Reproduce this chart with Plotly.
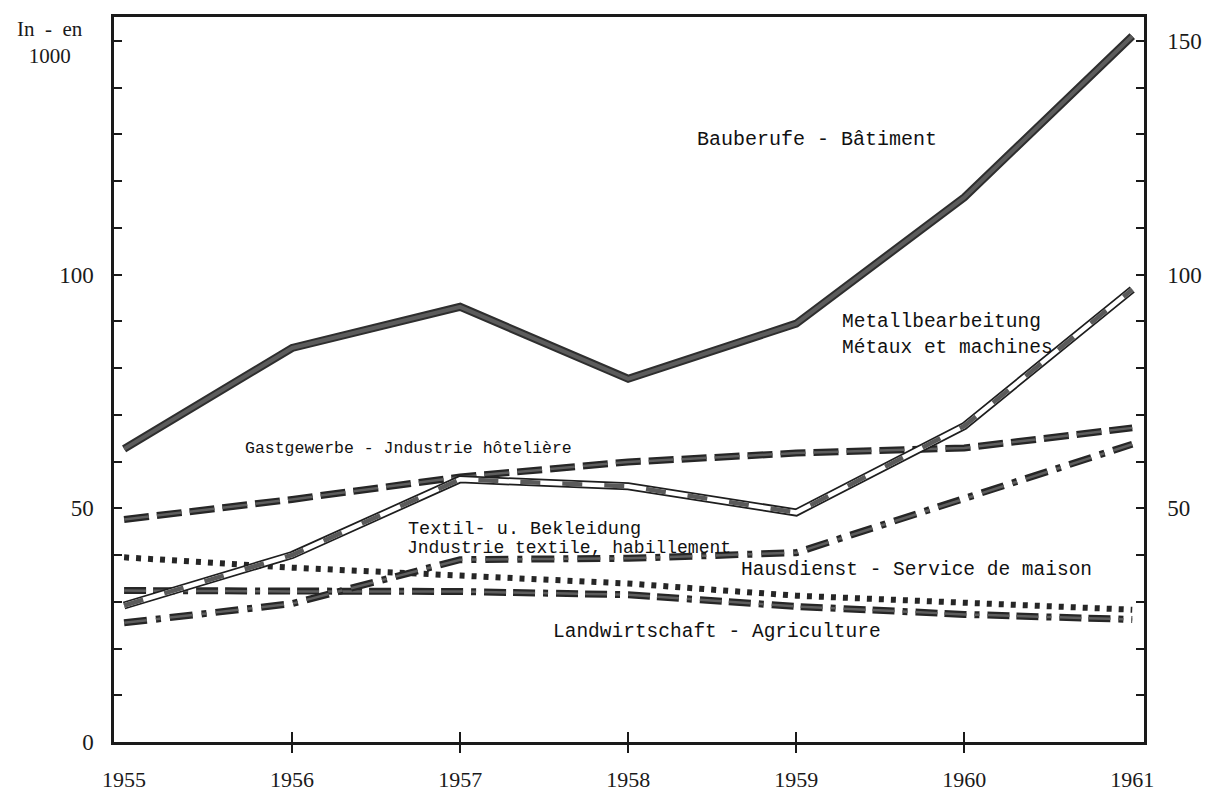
import plotly.graph_objects as go

# ---- data (values in thousands) ----
years = [1955, 1956, 1957, 1958, 1959, 1960, 1961]
bauberufe = [62.7, 84.3, 93.1, 77.7, 89.5, 116.5, 151.0]
metallbearbeitung = [29.2, 40.0, 56.2, 54.7, 49.1, 67.6, 96.8]
gastgewerbe = [47.6, 51.9, 56.7, 59.9, 61.8, 62.9, 67.2]
textil = [39.5, 37.3, 35.6, 33.9, 31.3, 29.8, 28.3]
hausdienst = [25.5, 29.6, 39.0, 39.3, 40.5, 52.0, 63.7]
landwirtschaft = [32.4, 32.2, 32.2, 31.5, 29.0, 27.3, 26.2]

year_labels = ["1955", "1956", "1957", "1958", "1959", "1960", "1961"]
inner_year_ticks = [1956, 1957, 1958, 1959, 1960]
y_ticks = list(range(0, 151, 10))
left_labelled = {0: "0", 50: "50", 100: "100"}
right_labelled = {50: "50", 100: "100", 150: "150"}

DARK = "#262626"
MID = "#5e5e5e"
AXIS = "#1a1a1a"
SERIF = "Liberation Serif"
MONO = "Liberation Mono"

fig = go.Figure()


def add_line(y, color, width, dash="solid"):
    fig.add_trace(go.Scatter(
        x=years, y=y, mode="lines",
        line=dict(color=color, width=width, dash=dash),
        showlegend=False, hoverinfo="skip"))


# Landwirtschaft: dash, dash, dot
ld = "22px,7px,22px,8px,5px,8px"
add_line(landwirtschaft, DARK, 7, ld)
add_line(landwirtschaft, MID, 2.5, ld)
# Textil: dotted
add_line(textil, DARK, 6, "5px,7px")
# Hausdienst: dash-dot
hd = "23px,9px,5px,9px"
add_line(hausdienst, DARK, 7, hd)
add_line(hausdienst, MID, 2.5, hd)
# Gastgewerbe: long dashes
gd = "25px,8px"
add_line(gastgewerbe, DARK, 7, gd)
add_line(gastgewerbe, MID, 2.5, gd)
# Metallbearbeitung: hollow band with hatched segments
add_line(metallbearbeitung, "#1e1e1e", 8)
add_line(metallbearbeitung, "white", 4.5)
add_line(metallbearbeitung, "#5a5a5a", 4.5, "20px,22px")
# Bauberufe: thick solid
add_line(bauberufe, "#2e2e2e", 8)
add_line(bauberufe, "#5c5c5c", 4)

# dummy traces so overlay axes exist
fig.add_trace(go.Scatter(x=[years[0]], y=[None], xaxis="x2", showlegend=False, hoverinfo="skip"))
fig.add_trace(go.Scatter(x=[years[0]], y=[None], xaxis="x3", showlegend=False, hoverinfo="skip"))
fig.add_trace(go.Scatter(x=[years[0]], y=[None], yaxis="y2", showlegend=False, hoverinfo="skip"))

xr = [1954.94, 1961.07]
yr = [0, 155.1]

fig.update_layout(
    width=1213, height=791,
    margin=dict(l=106, r=77, t=9, b=57, autoexpand=False),
    paper_bgcolor="white", plot_bgcolor="white",
    showlegend=False,
    xaxis=dict(range=xr, showgrid=False, zeroline=False, automargin=False,
               showline=True, linecolor=AXIS, linewidth=2.5, mirror=True,
               tickvals=inner_year_ticks, ticks="inside", ticklen=10,
               tickwidth=1.5, tickcolor=AXIS, showticklabels=False),
    xaxis2=dict(range=xr, overlaying="x", anchor="y", side="bottom",
                showgrid=False, zeroline=False, showline=False, automargin=False,
                tickvals=inner_year_ticks, ticks="outside", ticklen=10,
                tickwidth=1.5, tickcolor=AXIS, showticklabels=False),
    xaxis3=dict(range=xr, overlaying="x", anchor="y", side="bottom",
                showgrid=False, zeroline=False, showline=False, automargin=False,
                tickvals=years, ticktext=year_labels, ticks="",
                ticklabelstandoff=22,
                tickfont=dict(family=SERIF, size=22, color=AXIS)),
    yaxis=dict(range=yr, showgrid=False, zeroline=False, automargin=False,
               showline=True, linecolor=AXIS, linewidth=2.5,
               tickvals=y_ticks,
               ticktext=[left_labelled.get(v, "") for v in y_ticks],
               ticks="inside", ticklen=8, tickwidth=1.5, tickcolor=AXIS,
               ticklabelstandoff=13,
               tickfont=dict(family=SERIF, size=23, color=AXIS)),
    yaxis2=dict(range=yr, overlaying="y", anchor="x", side="right",
                showgrid=False, zeroline=False, automargin=False,
                showline=True, linecolor=AXIS, linewidth=2.5,
                tickvals=y_ticks,
                ticktext=[right_labelled.get(v, "") for v in y_ticks],
                ticks="inside", ticklen=8, tickwidth=1.5, tickcolor=AXIS,
                ticklabelstandoff=16,
                tickfont=dict(family=SERIF, size=23, color=AXIS)),
)


def label(text, x, y, size=20):
    fig.add_annotation(text=text, x=x, y=y, xref="x", yref="y",
                       xanchor="left", yanchor="middle", showarrow=False,
                       align="left", font=dict(family=MONO, size=size, color="#111111"))


label("Bauberufe - Bâtiment", 1958.40, 128.8)
label("Metallbearbeitung", 1959.26, 89.9, 19.5)
label("Métaux et machines", 1959.26, 84.3, 19.5)
label("Gastgewerbe - Jndustrie hôtelière", 1955.71, 62.7, 16.5)
label("Textil- u. Bekleidung", 1956.68, 45.5, 18.5)
label("Jndustrie textile, habillement", 1956.67, 41.4, 18)
label("Hausdienst - Service de maison", 1958.66, 36.7, 19.5)
label("Landwirtschaft - Agriculture", 1957.54, 23.6, 19.5)

fig.add_annotation(text="In  -  en<br>1000", xref="paper", yref="paper",
                   x=-0.062, y=0.965, xanchor="center", yanchor="middle",
                   showarrow=False, align="center",
                   font=dict(family=SERIF, size=21, color=AXIS))

fig.write_html("out.html")
